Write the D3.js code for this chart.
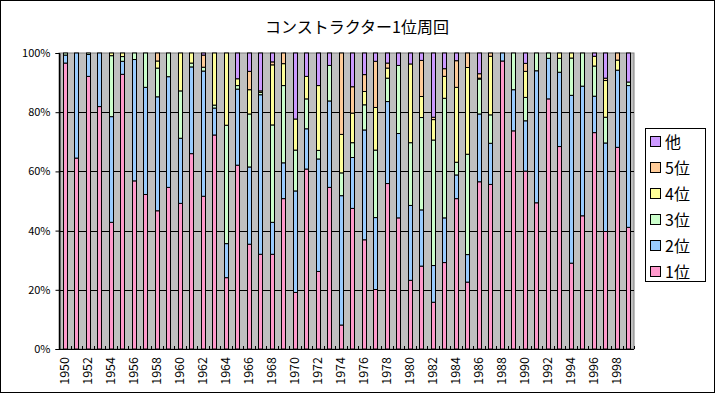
<!DOCTYPE html>
<html><head><meta charset="utf-8">
<script src="https://cdn.jsdelivr.net/npm/d3@7"></script>
<style>
html,body{margin:0;padding:0;background:#fff;}
svg{display:block;}
text{font-family:"Noto Sans CJK JP","Noto Sans",sans-serif;}
</style></head>
<body><svg id="c" width="715" height="393"></svg>
<script>
const title = "コンストラクター1位周回";
const years = d3.range(1950, 2000);
const seriesNames = ["1位","2位","3位","4位","5位","他"];
const colors = ["#ff99cc","#99ccff","#ccffcc","#ffff99","#ffcc99","#cc99ff"];
const yTicks = [0,0.2,0.4,0.6,0.8,1];
const xTickYears = years.filter(y => y % 2 === 0);

// values per year: 1位,2位,3位,4位,5位,他 (%)
const p1 = [96.6,64.5,92.1,81.9,42.8,92.8,56.8,52.2,46.7,54.6,
            49.2,66.0,51.6,72.3,24.1,62.1,35.4,32.0,32.0,50.8,
            19.1,60.8,26.2,54.6,8.1,47.5,36.9,20.1,55.9,44.3,
            23.2,28.0,15.8,29.2,50.8,22.6,56.5,55.6,97.3,73.7,
            60.1,49.4,84.5,68.4,29.0,45.0,73.1,39.7,68.2,41.1];
const p2 = [2.7,35.5,7.4,18.1,35.7,4.4,41.0,36.2,38.5,37.4,
            22.0,29.3,42.3,9.1,11.5,25.7,26.1,53.9,10.8,12.1,
            34.3,13.6,38.0,29.2,43.7,17.2,37.1,24.3,27.7,28.5,
            25.3,19.0,12.4,15.1,8.0,9.3,22.9,13.9,2.7,13.9,
            17.0,44.6,13.7,25.1,56.7,43.8,12.3,29.9,26.1,47.9];
const p3 = [0.7,0,0.5,0,20.6,1.6,2.2,11.6,9.7,8.0,
            16.0,1.3,1.3,1.0,40.0,1.2,17.9,0.8,32.9,26.1,
            13.8,10.1,2.9,12.0,7.7,5.0,8.5,22.8,7.9,23.0,
            21.2,31.2,42.4,40.4,4.3,33.9,11.8,9.6,0,12.4,
            7.9,6.0,1.8,4.7,12.6,11.2,10.2,8.7,0,1.2];
const p4 = [0,0,0,0,0.9,1.2,0,0,2.4,0,
            12.8,3.4,0,17.6,24.4,2.3,8.2,0.5,20.3,7.4,
            10.5,7.6,21.9,0,13.0,10.0,4.5,14.4,3.4,0,
            26.6,7.1,6.9,7.4,25.3,29.3,0.3,19.8,0,0,
            8.8,0,0,1.8,1.7,0,3.3,12.4,3.4,0];
const p5 = [0,0,0,0,0,0,0,0,2.7,0,
            0,0,4.1,0,0,0,6.2,0,1.0,3.6,
            0,0,0,0,27.5,8.9,5.7,15.6,1.7,0,
            0,12.2,0.8,2.6,9.0,4.9,1.5,1.1,0,0,
            2.7,0,0,0,0,0,0,0.8,2.4,0];
const p6 = [0,0,0,0,0,0,0,0,0,0,
            0,0,0.7,0,0,8.7,6.2,12.8,3.0,0,
            22.3,7.9,11.0,4.2,0,11.4,7.3,2.8,3.4,4.2,
            3.7,2.5,21.7,5.3,2.6,0,7.0,0,0,0,
            3.5,0,0,0,0,0,1.1,8.5,0,9.8];

const seriesVals = [p1,p2,p3,p4,p5,p6];
const table = years.map((y,i) => {
  const o = {year:y};
  seriesNames.forEach((n,k) => o[n] = seriesVals[k][i]);
  return o;
});

const svg = d3.select("#c");
const W = 715, H = 393;
const m = {l:59, r:634, t:53, b:349};

svg.append("rect").attr("x",0.5).attr("y",0.5).attr("width",W-1).attr("height",H-1)
  .attr("fill","#fff").attr("stroke","#000");

svg.append("text").attr("x",357).attr("y",33).attr("text-anchor","middle")
  .attr("font-size",16).text(title);

const x = d3.scaleBand().domain(years).range([m.l,m.r]).paddingInner(0.64).paddingOuter(0.32);
const y = d3.scaleLinear().domain([0,1]).range([m.b,m.t]);

// plot background
svg.append("rect").attr("x",m.l).attr("y",m.t).attr("width",m.r-m.l).attr("height",m.b-m.t)
  .attr("fill","#c0c0c0").attr("stroke","#808080");

// gridlines
svg.append("g").selectAll("line").data(yTicks.filter(v=>v>0&&v<1)).join("line")
  .attr("x1",m.l).attr("x2",m.r).attr("y1",d=>Math.round(y(d))+0.5).attr("y2",d=>Math.round(y(d))+0.5)
  .attr("stroke","#000");

const stack = d3.stack().keys(seriesNames).offset(d3.stackOffsetExpand);
const stacked = stack(table);

svg.append("g").selectAll("g").data(stacked).join("g")
  .attr("fill",(d,i)=>colors[i])
  .selectAll("rect").data(d=>d.filter(s=>s[1]-s[0]>0)).join("rect")
  .attr("x",d=>Math.round(x(d.data.year))+0.5)
  .attr("width",Math.round(x.bandwidth()))
  .attr("y",d=>y(d[1]))
  .attr("height",d=>Math.max(0,y(d[0])-y(d[1])))
  .attr("stroke","#000").attr("stroke-width",1);

// y axis
const yAxis = d3.axisLeft(y).tickValues(yTicks).tickFormat(d3.format(".0%")).tickSize(4).tickPadding(5);
const gy = svg.append("g").attr("transform",`translate(${m.l+0.5},0)`).call(yAxis);
gy.select(".domain").attr("stroke","#000");
gy.selectAll("text").attr("font-size",11).attr("font-family","'Noto Sans CJK JP',sans-serif");

// x axis: ticks at band boundaries (inside)
const step = x.step();
const bounds = years.map((yr,i)=> m.l + i*step).concat([m.r]);
svg.append("g").selectAll("line").data(bounds).join("line")
  .attr("x1",d=>Math.round(d)+0.5).attr("x2",d=>Math.round(d)+0.5)
  .attr("y1",m.b).attr("y2",m.b-3).attr("stroke","#000");
svg.append("line").attr("x1",m.l).attr("x2",m.r).attr("y1",m.b+0.5).attr("y2",m.b+0.5).attr("stroke","#000");
svg.append("line").attr("x1",m.l+0.5).attr("x2",m.l+0.5).attr("y1",m.t).attr("y2",m.b+1).attr("stroke","#000");

svg.append("g").selectAll("text").data(xTickYears).join("text")
  .attr("transform",d=>`translate(${x(d)+x.bandwidth()/2+4.5},357) rotate(-90)`)
  .attr("text-anchor","end").attr("font-size",12.5).text(d=>d);

// legend
const lg = svg.append("g");
lg.append("rect").attr("x",645.5).attr("y",128.5).attr("width",60).attr("height",153)
  .attr("fill","#fff").attr("stroke","#000");
const legendOrder = seriesNames.map((n,i)=>({n,c:colors[i]})).reverse();
const li = lg.selectAll("g").data(legendOrder).join("g")
  .attr("transform",(d,i)=>`translate(650,${141 + i*26})`);
li.append("rect").attr("x",0.5).attr("y",-4.5).attr("width",10).attr("height",10)
  .attr("fill",d=>d.c).attr("stroke","#000");
li.append("text").attr("x",15).attr("y",6.5).attr("font-size",16).text(d=>d.n);
</script></body></html>
